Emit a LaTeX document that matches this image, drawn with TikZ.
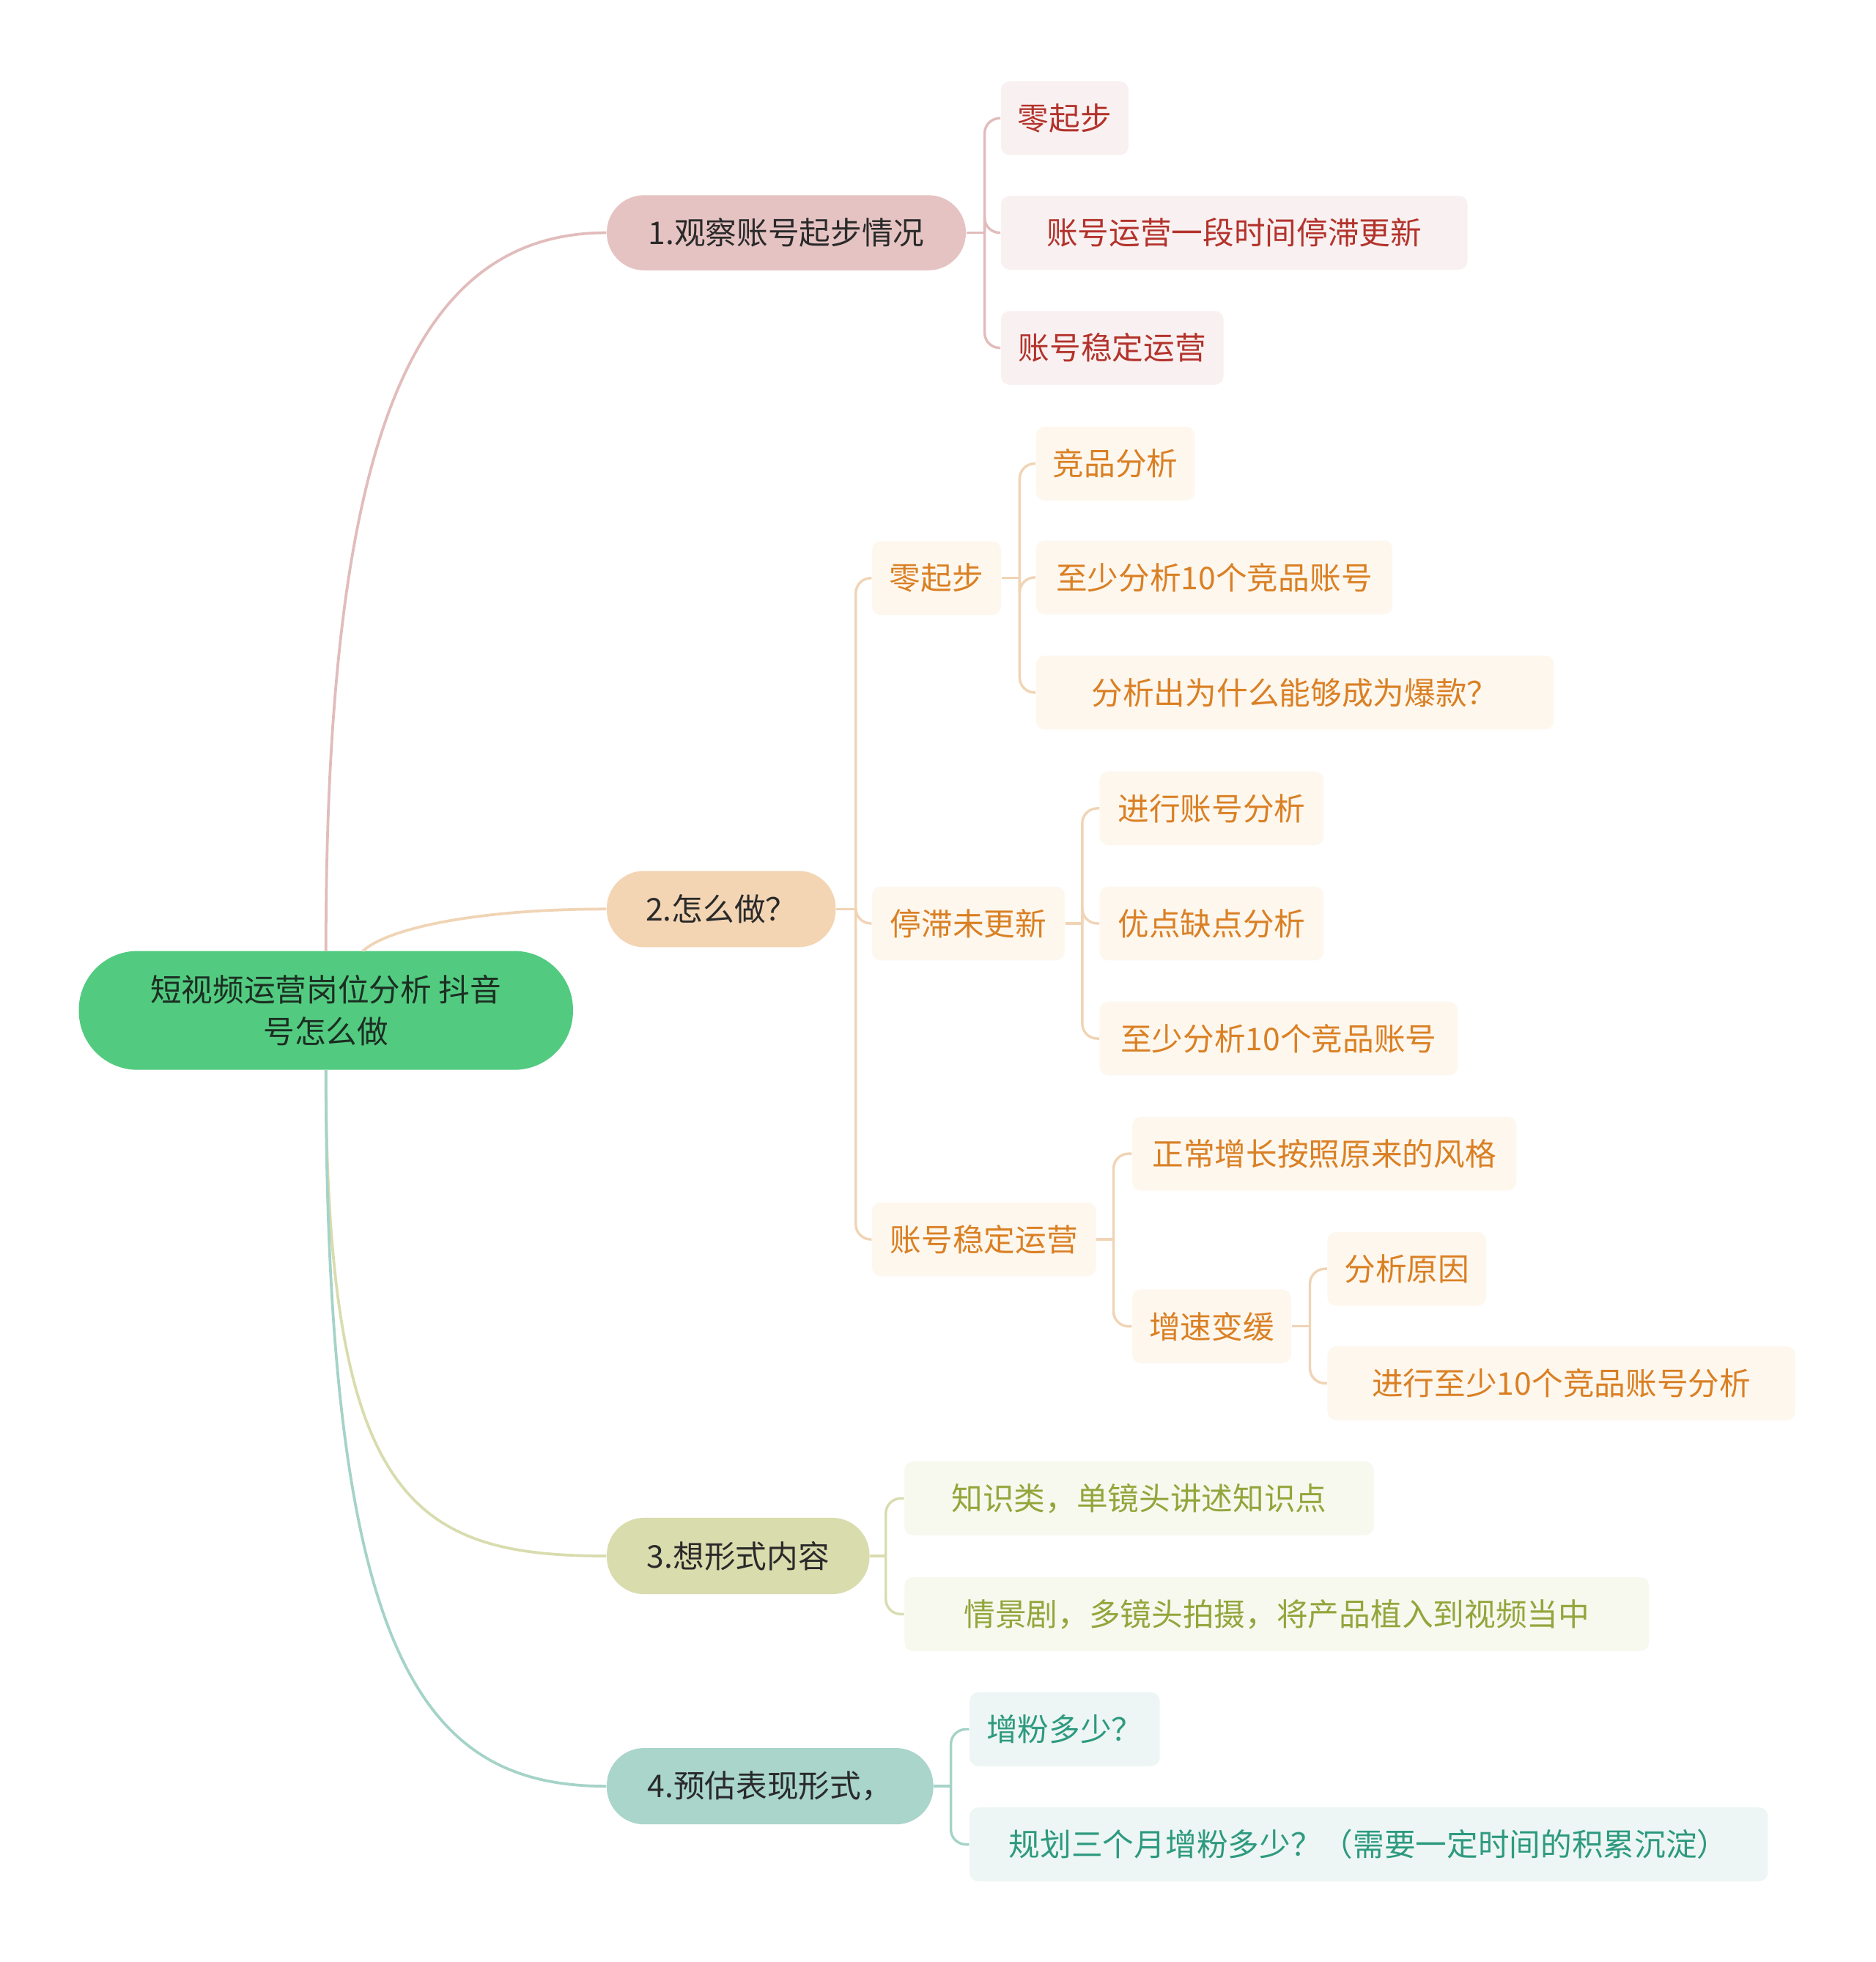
\documentclass[tikz,border=0pt]{standalone}
\usepackage{fontspec}
\setmainfont{Noto Sans CJK SC}
\definecolor{rootc}{HTML}{52CB80}
\definecolor{roottxt}{HTML}{1C2E22}
\definecolor{lvtxt}{HTML}{2A2A2A}
\definecolor{n1c}{HTML}{E6C3C3}
\definecolor{n2c}{HTML}{F3D5B4}
\definecolor{n3c}{HTML}{D9DCAD}
\definecolor{n4c}{HTML}{A9D5CB}
\definecolor{f1}{HTML}{F9F1F1}
\definecolor{t1}{HTML}{B3332C}
\definecolor{f2}{HTML}{FEF7EE}
\definecolor{t2}{HTML}{DA8024}
\definecolor{f3}{HTML}{F7F8EE}
\definecolor{t3}{HTML}{93A63C}
\definecolor{f4}{HTML}{EDF6F4}
\definecolor{t4}{HTML}{2E9A80}
\definecolor{l1}{HTML}{E2BCBC}
\definecolor{l2}{HTML}{F0D4B5}
\definecolor{l3}{HTML}{D9DCAE}
\definecolor{l4}{HTML}{A5D3C8}
\tikzset{
  base/.style={inner sep=0pt, align=center, font=\fontsize{12.5pt}{15pt}\selectfont},
  rootbox/.style={base, fill=rootc, text=roottxt, rounded corners=23.5pt,
    font=\fontsize{12.5pt}{16.5pt}\selectfont},
  lvone/.style={base, text=lvtxt, rounded corners=14.9pt},
  leaf/.style={base, rounded corners=3.5pt, minimum height=29.5pt},
  leafa/.style={leaf, fill=f1, text=t1},
  leafb/.style={leaf, fill=f2, text=t2},
  leafc/.style={leaf, fill=f3, text=t3},
  leafd/.style={leaf, fill=f4, text=t4},
  mainline/.style={line width=1.1pt},
  brline/.style={line width=1pt, rounded corners=6pt},
}
\newcommand\brk[4]{%
  \draw[brline,#4] (#1.east) -- (#1.east -| #2,0);
  \foreach \ch in {#3} {\draw[brline,#4] (#1.east -| #2,0) |- (\ch.west);}
}
\begin{document}
\begin{tikzpicture}[x=0.5pt,y=-0.5pt]
\useasboundingbox[fill=white] (0,0) rectangle (1499,1568);

% root
\node[rootbox, minimum width=197.5pt, minimum height=47.5pt] (root) at (260.5,807.5) {短视频运营岗位分析 抖音\\号怎么做};

% level 1
\node[lvone, fill=n1c, minimum width=143.5pt, minimum height=30pt] (n1) at (628.5,186) {1.观察账号起步情况};
\node[lvone, fill=n2c, minimum width=91.5pt, minimum height=30.5pt] (n2) at (576.5,726.5) {2.怎么做？};
\node[lvone, fill=n3c, minimum width=105pt, minimum height=30.5pt] (n3) at (590,1243.5) {3.想形式内容};
\node[lvone, fill=n4c, minimum width=130.5pt, minimum height=30.5pt] (n4) at (615.5,1427.5) {4.预估表现形式，};

% branch 1
\node[leafa, minimum width=51pt] (a1) at (851,94.5) {零起步};
\node[leafa, minimum width=186.5pt] (a2) at (986.5,186) {账号运营一段时间停滞更新};
\node[leafa, minimum width=89pt] (a3) at (889,278) {账号稳定运营};

% branch 2
\node[leafb, minimum width=51.5pt] (b1) at (748.5,462) {零起步};
\node[leafb, minimum width=77pt] (b2) at (774,738) {停滞未更新};
\node[leafb, minimum width=89.5pt] (b3) at (786.5,990.5) {账号稳定运营};

\node[leafb, minimum width=63.5pt] (b11) at (891.5,370.5) {竞品分析};
\node[leafb, minimum width=142.5pt] (b12) at (970.5,461.5) {至少分析10个竞品账号};
\node[leafb, minimum width=207pt] (b13) at (1035,553.5) {分析出为什么能够成为爆款？};

\node[leafb, minimum width=89.5pt] (b21) at (968.5,646) {进行账号分析};
\node[leafb, minimum width=89.5pt] (b22) at (968.5,738) {优点缺点分析};
\node[leafb, minimum width=143pt] (b23) at (1022,830) {至少分析10个竞品账号};

\node[leafb, minimum width=153.5pt] (b31) at (1058.5,922) {正常增长按照原来的风格};
\node[leafb, minimum width=63.5pt] (b32) at (968.5,1060) {增速变缓};
\node[leafb, minimum width=63.5pt] (b321) at (1124.5,1014) {分析原因};
\node[leafb, minimum width=187pt] (b322) at (1248,1105.5) {进行至少10个竞品账号分析};

% branch 3
\node[leafc, minimum width=187.5pt] (c1) at (910.5,1197.5) {知识类，单镜头讲述知识点};
\node[leafc, minimum width=297.5pt] (c2) at (1020.5,1290) {情景剧，多镜头拍摄，将产品植入到视频当中};

% branch 4
\node[leafd, minimum width=76pt] (d1) at (851,1382) {增粉多少？};
\node[leafd, minimum width=319pt] (d2) at (1094,1474) {规划三个月增粉多少？（需要一定时间的积累沉淀）};

% main connectors
\coordinate (s1) at (260.5,760);
\coordinate (s2) at (290,760);
\coordinate (s3) at (260.5,855);
\draw[mainline, l1] (s1) .. controls (260.5,350) and (330,186) .. (n1.west);
\draw[mainline, l2] (s2) .. controls (310,742) and (380,726.5) .. (n2.west);
\draw[mainline, l3] (s3) .. controls (260.5,1200) and (330,1243.5) .. (n3.west);
\draw[mainline, l4] (s3) .. controls (260.5,1330) and (340,1427.5) .. (n4.west);

% brackets
\brk{n1}{787}{a1,a2,a3}{l1}
\brk{n2}{684}{b1,b2,b3}{l2}
\brk{b1}{815}{b11,b12,b13}{l2}
\brk{b2}{865}{b21,b22,b23}{l2}
\brk{b3}{890}{b31,b32}{l2}
\brk{b32}{1047}{b321,b322}{l2}
\brk{n3}{708}{c1,c2}{l3}
\brk{n4}{760}{d1,d2}{l4}
\end{tikzpicture}
\end{document}
